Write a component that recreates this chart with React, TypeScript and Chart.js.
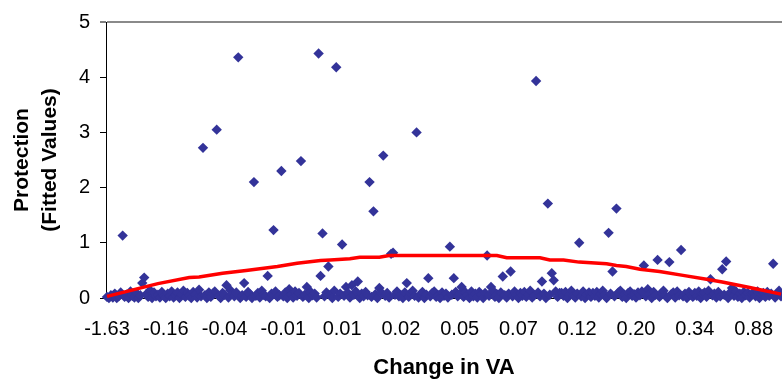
import { useEffect, useRef } from "react";
import { Chart, registerables } from "chart.js";

Chart.register(...registerables);

// Category tick labels (Change in VA), one every `tickEvery` observations
const xTickLabels = ["-1.63", "-0.16", "-0.04", "-0.01", "0.01", "0.02", "0.05", "0.07", "0.12", "0.20", "0.34", "0.88"];
const tickEvery = 30;

// Protection (fitted values), one per sorted observation
const protection: number[] = [
  0.02, 0.00, 0.05, 0.01, 0.08, 0.00, 0.03, 0.10, 1.13, 0.02,
  0.06, 0.00, 0.12, 0.04, 0.01, 0.09, 0.00, 0.05, 0.27, 0.37,
  0.07, 0.02, 0.14, 0.00, 0.10, 0.03, 0.06, 0.01, 0.11, 0.04,

  0.00, 0.08, 0.03, 0.12, 0.01, 0.05, 0.10, 0.00, 0.06, 0.13,
  0.02, 0.09, 0.04, 0.00, 0.11, 0.07, 0.01, 0.15, 0.03, 2.72,
  0.05, 0.00, 0.10, 0.02, 0.08, 0.12, 3.05, 0.04, 0.00, 0.09,

  0.06, 0.23, 0.01, 0.14, 0.08, 0.03, 0.10, 4.36, 0.00, 0.05,
  0.27, 0.02, 0.11, 0.07, 0.00, 2.10, 0.04, 0.09, 0.01, 0.13,
  0.06, 0.03, 0.40, 0.00, 0.08, 1.23, 0.12, 0.02, 0.05, 2.30,

  0.03, 0.10, 0.00, 0.16, 0.07, 0.01, 0.12, 0.04, 0.09, 2.48,
  0.02, 0.06, 0.20, 0.00, 0.11, 0.05, 0.08, 0.01, 4.43, 0.40,
  1.17, 0.03, 0.10, 0.57, 0.06, 0.00, 0.13, 4.18, 0.02, 0.08,

  0.97, 0.04, 0.20, 0.09, 0.01, 0.23, 0.06, 0.12, 0.30, 0.00,
  0.08, 0.03, 0.11, 0.05, 2.10, 0.02, 1.57, 0.07, 0.00, 0.18,
  0.10, 2.58, 0.04, 0.09, 0.01, 0.80, 0.82, 0.06, 0.12, 0.03,

  0.05, 0.00, 0.10, 0.27, 0.02, 0.08, 0.13, 0.04, 3.00, 0.01,
  0.07, 0.11, 0.00, 0.06, 0.36, 0.03, 0.09, 0.12, 0.02, 0.05,
  0.00, 0.10, 0.04, 0.08, 0.01, 0.93, 0.06, 0.36, 0.11, 0.03,

  0.07, 0.20, 0.02, 0.10, 0.05, 0.00, 0.12, 0.03, 0.08, 0.01,
  0.11, 0.06, 0.00, 0.09, 0.77, 0.04, 0.20, 0.13, 0.02, 0.07,
  0.00, 0.10, 0.39, 0.05, 0.01, 0.08, 0.48, 0.03, 0.12, 0.06,

  0.00, 0.09, 0.04, 0.11, 0.02, 0.07, 0.13, 0.01, 0.05, 3.93,
  0.10, 0.03, 0.30, 0.08, 0.00, 1.71, 0.06, 0.45, 0.32, 0.12,
  0.02, 0.09, 0.09, 0.04, 0.11, 0.00, 0.07, 0.13, 0.05, 0.01,

  0.08, 1.00, 0.03, 0.12, 0.00, 0.06, 0.10, 0.02, 0.09, 0.04,
  0.11, 0.01, 0.07, 0.13, 0.05, 0.00, 1.18, 0.08, 0.48, 0.03,
  1.62, 0.10, 0.13, 0.02, 0.06, 0.00, 0.09, 0.12, 0.04, 0.07,

  0.01, 0.10, 0.05, 0.12, 0.59, 0.03, 0.16, 0.08, 0.00, 0.11,
  0.06, 0.69, 0.02, 0.09, 0.13, 0.04, 0.00, 0.65, 0.07, 0.10,
  0.01, 0.12, 0.05, 0.87, 0.03, 0.08, 0.00, 0.11, 0.06, 0.02,

  0.09, 0.04, 0.12, 0.00, 0.07, 0.10, 0.02, 0.13, 0.34, 0.05,
  0.08, 0.01, 0.11, 0.03, 0.52, 0.06, 0.66, 0.00, 0.10, 0.18,
  0.04, 0.12, 0.02, 0.08, 0.00, 0.11, 0.05, 0.09, 0.01, 0.07,

  0.10, 0.03, 0.12, 0.00, 0.06, 0.09, 0.02, 0.11, 0.04, 0.08,
  0.62, 0.01, 0.07, 0.13, 0.03,
];

// Fitted curve (observation index -> value)
const fitIndex = [0, 26, 42, 47, 59, 71, 87, 97, 109, 114, 124, 129, 139, 144, 199, 204, 221, 226, 233, 241, 255, 260, 265, 272, 282, 294, 306, 314, 328, 344];
const fitValue = [0.03, 0.26, 0.37, 0.38, 0.45, 0.50, 0.57, 0.63, 0.68, 0.69, 0.71, 0.74, 0.74, 0.77, 0.77, 0.73, 0.73, 0.69, 0.69, 0.65, 0.62, 0.59, 0.57, 0.52, 0.48, 0.41, 0.34, 0.29, 0.19, 0.07];

const FONT = "'Liberation Sans', Arial, Helvetica, sans-serif";

export default function App() {
  const ref = useRef<HTMLCanvasElement>(null);

  useEffect(() => {
    document.body.style.margin = "0";
    const canvas = ref.current;
    if (!canvas) return;
    const n = protection.length;
    const chart = new Chart(canvas, {
      type: "scatter",
      data: {
        datasets: [
          {
            type: "line",
            data: fitIndex.map((x, i) => ({ x, y: fitValue[i] })),
            borderColor: "#ff0000",
            borderWidth: 3.5,
            pointRadius: 0,
            tension: 0,
            fill: false,
            order: 0,
            clip: false,
          } as any,
          {
            data: protection.map((y, i) => ({ x: i, y })),
            pointStyle: "rectRot",
            pointRadius: 5.2,
            backgroundColor: "#333399",
            borderColor: "#333399",
            borderWidth: 0,
            order: 1,
            clip: false,
          } as any,
        ],
      },
      options: {
        animation: false,
        responsive: false,
        maintainAspectRatio: false,
        events: [],
        layout: { autoPadding: false, padding: { top: 17, left: 0, right: 0, bottom: 0 } },
        plugins: { legend: { display: false }, tooltip: { enabled: false } },
        scales: {
          x: {
            type: "linear",
            min: -0.5,
            max: n - 0.5,
            afterBuildTicks: (s: any) => {
              s.ticks = xTickLabels.map((_, i) => ({ value: i * tickEvery }));
            },
            afterFit: (s: any) => {
              s.height = 83;
              s.paddingLeft = 0;
              s.paddingRight = 0;
            },
            ticks: {
              autoSkip: false,
              maxRotation: 0,
              minRotation: 0,
              padding: 4,
              color: "#000",
              font: { family: FONT, size: 20, lineHeight: 1.2 },
              callback: (v: any) => {
                const k = Math.round(Number(v) / tickEvery);
                return xTickLabels[k] ?? "";
              },
            },
            grid: {
              display: true,
              drawOnChartArea: false,
              drawTicks: true,
              tickLength: 15,
              tickColor: "rgba(0,0,0,0)",
              color: "rgba(0,0,0,0)",
            },
            border: { display: true, color: "#000", width: 1 },
            title: {
              display: true,
              text: "Change in VA",
              color: "#000",
              font: { family: FONT, size: 22, weight: "bold", lineHeight: 1.2 },
              padding: { top: 0, bottom: 0 },
            },
          },
          y: {
            type: "linear",
            min: 0,
            max: 5,
            afterFit: (s: any) => {
              s.width = 106;
            },
            ticks: {
              stepSize: 1,
              padding: 10,
              color: "#000",
              font: { family: FONT, size: 20, lineHeight: 1.2 },
            },
            grid: {
              display: true,
              drawTicks: true,
              tickLength: 6,
              tickColor: "#000",
              tickWidth: 1,
              color: (c: any) => (c.tick && c.tick.value === 5 ? "#8a8a8a" : "rgba(0,0,0,0)"),
              lineWidth: (c: any) => (c.tick && c.tick.value === 5 ? 2 : 1),
            },
            border: { display: true, color: "#000", width: 1 },
            title: {
              display: true,
              text: ["Protection", "(Fitted Values)"],
              color: "#000",
              font: { family: FONT, size: 21, weight: "bold", lineHeight: 1.35 },
              padding: { top: 8, bottom: 0 },
            },
          },
        },
      },
    });
    return () => chart.destroy();
  }, []);

  return (
    <div style={{ position: "absolute", left: 0, top: 0, width: 782, height: 381 }}>
      <canvas ref={ref} width={782} height={381} />
    </div>
  );
}
